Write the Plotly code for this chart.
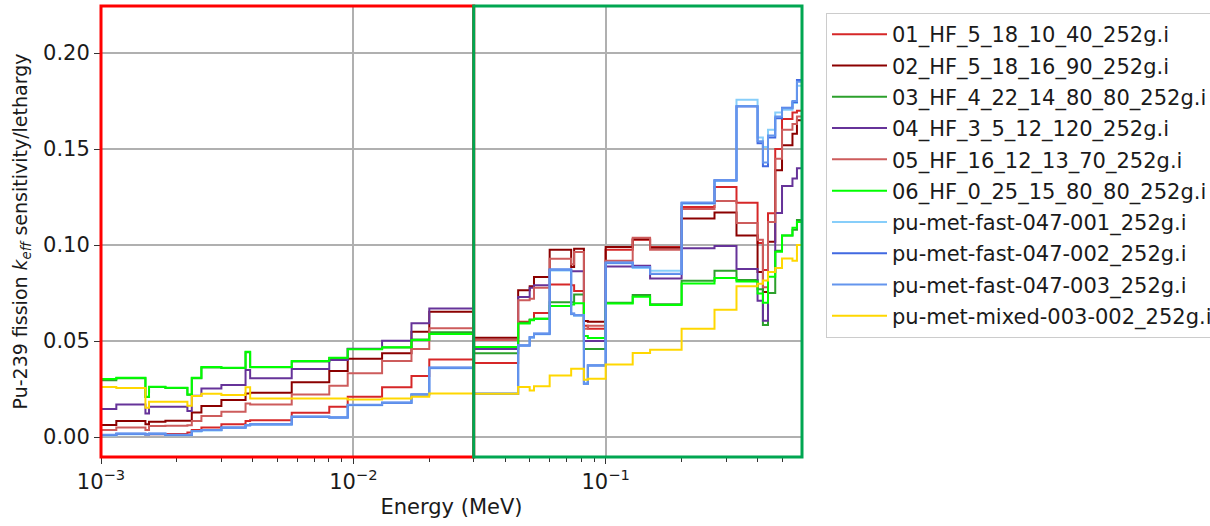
import numpy as np
import plotly.graph_objects as go

# Group energy boundaries (MeV)
edges = [1.0e-3, 1.15e-3, 1.5e-3, 1.55e-3, 1.8e-3, 2.2e-3, 2.29e-3, 2.5e-3, 3.0e-3,
         3.74e-3, 3.9e-3, 5.7e-3, 8.03e-3, 9.5e-3, 1.3e-2, 1.7e-2, 2.0e-2, 3.0e-2,
         4.5e-2, 5.0e-2, 5.2e-2, 6.0e-2, 7.3e-2, 7.5e-2, 8.2e-2, 8.5e-2, 1.0e-1,
         1.28e-1, 1.5e-1, 2.0e-1, 2.7e-1, 3.3e-1, 4.0e-1, 4.2e-1, 4.4e-1, 4.7e-1,
         5.0e-1, 5.5e-1, 5.73e-1, 6.0e-1]

names = ["01_HF_5_18_10_40_252g.i", "02_HF_5_18_16_90_252g.i", "03_HF_4_22_14_80_80_252g.i",
         "04_HF_3_5_12_120_252g.i", "05_HF_16_12_13_70_252g.i", "06_HF_0_25_15_80_80_252g.i",
         "pu-met-fast-047-001_252g.i", "pu-met-fast-047-002_252g.i",
         "pu-met-fast-047-003_252g.i", "pu-met-mixed-003-002_252g.i"]

x_tick_vals = [1e-3, 1e-2, 1e-1]
x_tick_text = ["10<sup>−3</sup>", "10<sup>−2</sup>", "10<sup>−1</sup>"]
y_tick_vals = [0.0, 0.05, 0.10, 0.15, 0.20]

s01 = [0.0010, 0.0016, 0.0010, 0.0014, 0.0016, 0.0023, 0.0036, 0.0049, 0.0066, 0.0083, 0.0087,
       0.0127, 0.0158, 0.0210, 0.0259, 0.0318, 0.0404,
       0.0385, 0.0600, 0.0610, 0.0646, 0.0795, 0.0790, 0.0760, 0.0580, 0.0564,
       0.0976, 0.1028, 0.0990, 0.1198, 0.1302, 0.1220,
       0.1010, 0.0870, 0.1166, 0.1500, 0.1656, 0.1690, 0.1700]
s02 = [0.0063, 0.0083, 0.0066, 0.0080, 0.0085, 0.0085, 0.0128, 0.0161, 0.0193, 0.0227, 0.0231,
       0.0285, 0.0344, 0.0408, 0.0436, 0.0549, 0.0653,
       0.0517, 0.0764, 0.0785, 0.0833, 0.0976, 0.0885, 0.0981, 0.0604, 0.0600,
       0.0990, 0.1030, 0.0986, 0.1138, 0.1170, 0.1050,
       0.0860, 0.0755, 0.1017, 0.1390, 0.1520, 0.1580, 0.1650]
s03 = [0.0296, 0.0306, 0.0208, 0.0260, 0.0255, 0.0220, 0.0306, 0.0362, 0.0360, 0.0442, 0.0363,
       0.0393, 0.0411, 0.0459, 0.0466, 0.0508, 0.0546,
       0.0436, 0.0595, 0.0612, 0.0616, 0.0702, 0.0702, 0.0743, 0.0459, 0.0459,
       0.0700, 0.0740, 0.0692, 0.0814, 0.0866, 0.0818,
       0.0770, 0.0583, 0.0750, 0.0970, 0.1050, 0.1080, 0.1130]
s04 = [0.0146, 0.0170, 0.0123, 0.0158, 0.0158, 0.0135, 0.0215, 0.0253, 0.0271, 0.0349, 0.0306,
       0.0354, 0.0401, 0.0460, 0.0502, 0.0592, 0.0670,
       0.0459, 0.0729, 0.0778, 0.0791, 0.0870, 0.0863, 0.0863, 0.0500, 0.0500,
       0.0888, 0.0892, 0.0826, 0.0983, 0.0995, 0.0875,
       0.0710, 0.0606, 0.0860, 0.1167, 0.1307, 0.1347, 0.1400]
s05 = [0.0036, 0.0049, 0.0036, 0.0057, 0.0059, 0.0062, 0.0083, 0.0109, 0.0132, 0.0175, 0.0170,
       0.0222, 0.0267, 0.0332, 0.0396, 0.0458, 0.0566,
       0.0505, 0.0712, 0.0720, 0.0778, 0.0929, 0.0900, 0.0964, 0.0564, 0.0580,
       0.0918, 0.1038, 0.0976, 0.1188, 0.1229, 0.1115,
       0.1028, 0.0780, 0.1120, 0.1450, 0.1600, 0.1630, 0.1670]
s06 = [0.0302, 0.0309, 0.0210, 0.0262, 0.0257, 0.0222, 0.0309, 0.0365, 0.0361, 0.0444, 0.0365,
       0.0396, 0.0413, 0.0457, 0.0467, 0.0505, 0.0536,
       0.0469, 0.0591, 0.0608, 0.0616, 0.0683, 0.0690, 0.0697, 0.0526, 0.0516,
       0.0696, 0.0730, 0.0688, 0.0800, 0.0828, 0.0810,
       0.0748, 0.0700, 0.0835, 0.0965, 0.1050, 0.1090, 0.1120]
s07 = [0.0008, 0.0015, 0.0012, 0.0015, 0.0009, 0.0009, 0.0029, 0.0034, 0.0047, 0.0060, 0.0064,
       0.0104, 0.0100, 0.0165, 0.0177, 0.0220, 0.0358,
       0.0224, 0.0475, 0.0517, 0.0535, 0.0868, 0.0640, 0.0632, 0.0280, 0.0372,
       0.0905, 0.0880, 0.0866, 0.1215, 0.1333, 0.1757,
       0.1560, 0.1510, 0.1600, 0.1690, 0.1705, 0.1740, 0.1830]
s08 = [0.0011, 0.0017, 0.0014, 0.0017, 0.0011, 0.0011, 0.0031, 0.0036, 0.0049, 0.0062, 0.0066,
       0.0106, 0.0102, 0.0167, 0.0179, 0.0222, 0.0361,
       0.0226, 0.0477, 0.0520, 0.0538, 0.0872, 0.0642, 0.0634, 0.0278, 0.0373,
       0.0908, 0.0885, 0.0849, 0.1219, 0.1337, 0.1722,
       0.1530, 0.1410, 0.1560, 0.1660, 0.1715, 0.1745, 0.1860]
s09 = [0.0012, 0.0018, 0.0015, 0.0018, 0.0012, 0.0012, 0.0032, 0.0037, 0.0050, 0.0063, 0.0067,
       0.0107, 0.0103, 0.0168, 0.0180, 0.0223, 0.0362,
       0.0227, 0.0478, 0.0521, 0.0539, 0.0873, 0.0643, 0.0635, 0.0276, 0.0374,
       0.0909, 0.0886, 0.0851, 0.1221, 0.1338, 0.1724,
       0.1540, 0.1430, 0.1570, 0.1670, 0.1712, 0.1750, 0.1850]
s10 = [0.0260, 0.0255, 0.0153, 0.0184, 0.0184, 0.0163, 0.0214, 0.0226, 0.0219, 0.0259, 0.0201,
       0.0201, 0.0201, 0.0196, 0.0201, 0.0210, 0.0227,
       0.0226, 0.0260, 0.0243, 0.0264, 0.0321, 0.0356, 0.0356, 0.0299, 0.0304,
       0.0378, 0.0438, 0.0455, 0.0564, 0.0663, 0.0785,
       0.0799, 0.0815, 0.0860, 0.0880, 0.0930, 0.0918, 0.1000]

series = [s01, s02, s03, s04, s05, s06, s07, s08, s09, s10]
colors = ["#d62728", "#8b0000", "#2ca02c", "#663399", "#cd5c5c", "#00ff00",
          "#87cefa", "#4169e1", "#6495ed", "#ffd700"]

xmin, xmax = 1e-3, 0.6
ymin, ymax = -0.0104, 0.2245
split = 0.03

fig = go.Figure()
for i, (nm, vals, col) in enumerate(zip(names, series, colors)):
    fig.add_trace(go.Scatter(x=edges, y=list(vals) + [vals[-1]], mode="lines",
                             line=dict(color=col, width=2, shape="hv"), name=nm,
                             legendgroup=f"g{i}"))

lx0, lx1 = np.log10(xmin), np.log10(xmax)
xs = (np.log10(split) - lx0) / (lx1 - lx0)
fig.add_shape(type="rect", xref="paper", yref="paper", x0=0, x1=xs, y0=0, y1=1,
              line=dict(color="#ff0000", width=3), layer="above")
fig.add_shape(type="rect", xref="paper", yref="paper", x0=xs, x1=1, y0=0, y1=1,
              line=dict(color="#00a651", width=3), layer="above")

minor_vals = [k * 10.0 ** d for d in (-3, -2, -1) for k in range(2, 10) if k * 10.0 ** d <= xmax]

font = "DejaVu Sans"
W, H = 1210, 526
fig.update_layout(
    width=W, height=H,
    margin=dict(l=101, r=408, t=6, b=69, autoexpand=False),
    paper_bgcolor="white", plot_bgcolor="white",
    font=dict(family=font, size=21, color="#1a1a1a"),
    showlegend=True,
    legend=dict(xref="container", yref="container", x=826 / W, xanchor="left",
                y=1 - 13 / H, yanchor="top", maxheight=500,
                bordercolor="#cccccc", borderwidth=1, bgcolor="white",
                font=dict(size=21), itemwidth=55, tracegroupgap=1),
    xaxis=dict(type="log", range=[lx0, lx1], tickmode="array",
               tickvals=x_tick_vals, ticktext=x_tick_text,
               showgrid=True, gridcolor="#b0b0b0", gridwidth=1.5,
               ticks="outside", ticklen=6, tickcolor="#333", zeroline=False,
               minor=dict(tickmode="array", tickvals=minor_vals, ticks="outside",
                          ticklen=4, tickcolor="#333", showgrid=False),
               title=dict(text="Energy (MeV)", standoff=6, font=dict(size=21))),
    yaxis=dict(range=[ymin, ymax], tickmode="array", tickvals=y_tick_vals, tickformat=".2f",
               showgrid=True, gridcolor="#b0b0b0", gridwidth=1.5,
               ticks="outside", ticklen=6, tickcolor="#333", zeroline=False,
               title=dict(text="Pu-239 fission <i>k</i><sub><i>eff</i></sub> sensitivity/lethargy",
                          standoff=10, font=dict(size=19))),
)

fig.write_html("out.html")
